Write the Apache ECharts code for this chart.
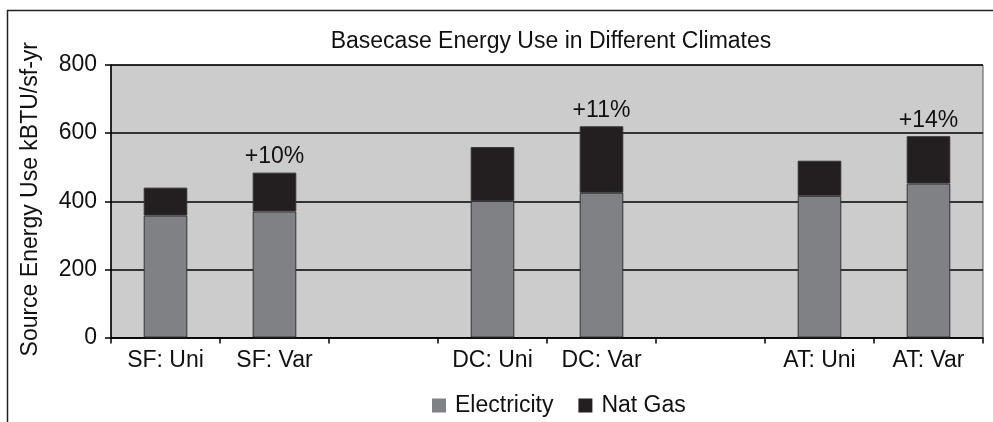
<!DOCTYPE html>
<html><head><meta charset="utf-8">
<script src="https://cdn.jsdelivr.net/npm/echarts@6/dist/echarts.min.js"></script>
<style>html,body{margin:0;padding:0;background:#fff}#c{width:993px;height:422px}</style>
</head><body><div id="c"></div>
<script>
const categories = ['SF: Uni', 'SF: Var', ' ', 'DC: Uni', 'DC: Var', '  ', 'AT: Uni', 'AT: Var'];
const electricity = [358, 370, null, 401, 425, null, 416, 452];
const natGas = [82, 114, null, 158, 195, null, 103, 139];
const increaseLabels = ['', '+10%', '', '', '+11%', '', '', '+14%'];
const yTicks = [0, 200, 400, 600, 800];

const font = 'Liberation Sans, Arial, sans-serif';
const chart = echarts.init(document.getElementById('c'), null, {renderer: 'canvas'});
chart.setOption({
  animation: false,
  backgroundColor: '#fff',
  title: {
    text: 'Basecase Energy Use in Different Climates',
    left: 546, top: 25, textAlign: 'center',
    textStyle: {fontFamily: font, fontSize: 23, fontWeight: 'normal', color: '#111'}
  },
  graphic: [{
    type: 'polyline',
    shape: {points: [[7.5, 422], [7.5, 10.5], [993, 10.5]]},
    style: {stroke: '#222', lineWidth: 1.5, fill: null}
  }],
  legend: {
    top: 394, left: 432, padding: 0,
    itemWidth: 14, itemHeight: 14, itemGap: 25,
    icon: 'rect',
    itemStyle: {borderWidth: 0},
    textStyle: {fontFamily: font, fontSize: 23, color: '#111', padding: [0, 0, 0, 4]},
    data: ['Electricity', 'Nat Gas']
  },
  grid: {
    left: 111, right: 10, top: 65, bottom: 84.5,
    show: true, backgroundColor: '#cccccc', borderColor: '#555', borderWidth: 1
  },
  xAxis: {
    type: 'category', data: categories,
    axisLine: {lineStyle: {color: '#000', width: 1.5}},
    axisTick: {show: true, length: 6, lineStyle: {color: '#000', width: 1.5}},
    axisLabel: {fontFamily: font, fontSize: 23, color: '#111', margin: 12, interval: 0}
  },
  yAxis: {
    type: 'value', min: 0, max: 800, interval: 200,
    name: 'Source Energy Use kBTU/sf-yr', nameLocation: 'middle', nameGap: 69,
    nameTextStyle: {fontFamily: font, fontSize: 23, color: '#111', padding: [0, 0, 0, 4]},
    axisLine: {show: true, lineStyle: {color: '#000', width: 1.5}},
    axisTick: {show: true, length: 6, lineStyle: {color: '#000', width: 1.5}},
    axisLabel: {fontFamily: font, fontSize: 23, color: '#111', margin: 14,
      formatter: v => yTicks.includes(v) ? String(v) : ''},
    splitLine: {show: true, lineStyle: {color: '#000', width: 1.5}}
  },
  series: [
    {
      name: 'Electricity', type: 'bar', stack: 'e', barWidth: '40%',
      data: electricity,
      itemStyle: {color: '#808185', borderColor: '#333', borderWidth: 1}
    },
    {
      name: 'Nat Gas', type: 'bar', stack: 'e', barWidth: '40%',
      data: natGas,
      itemStyle: {color: '#231f20', borderColor: '#333', borderWidth: 1},
      label: {
        show: true, position: 'top', distance: 4,
        fontFamily: font, fontSize: 23, color: '#111',
        formatter: p => increaseLabels[p.dataIndex]
      }
    }
  ]
});
</script></body></html>
